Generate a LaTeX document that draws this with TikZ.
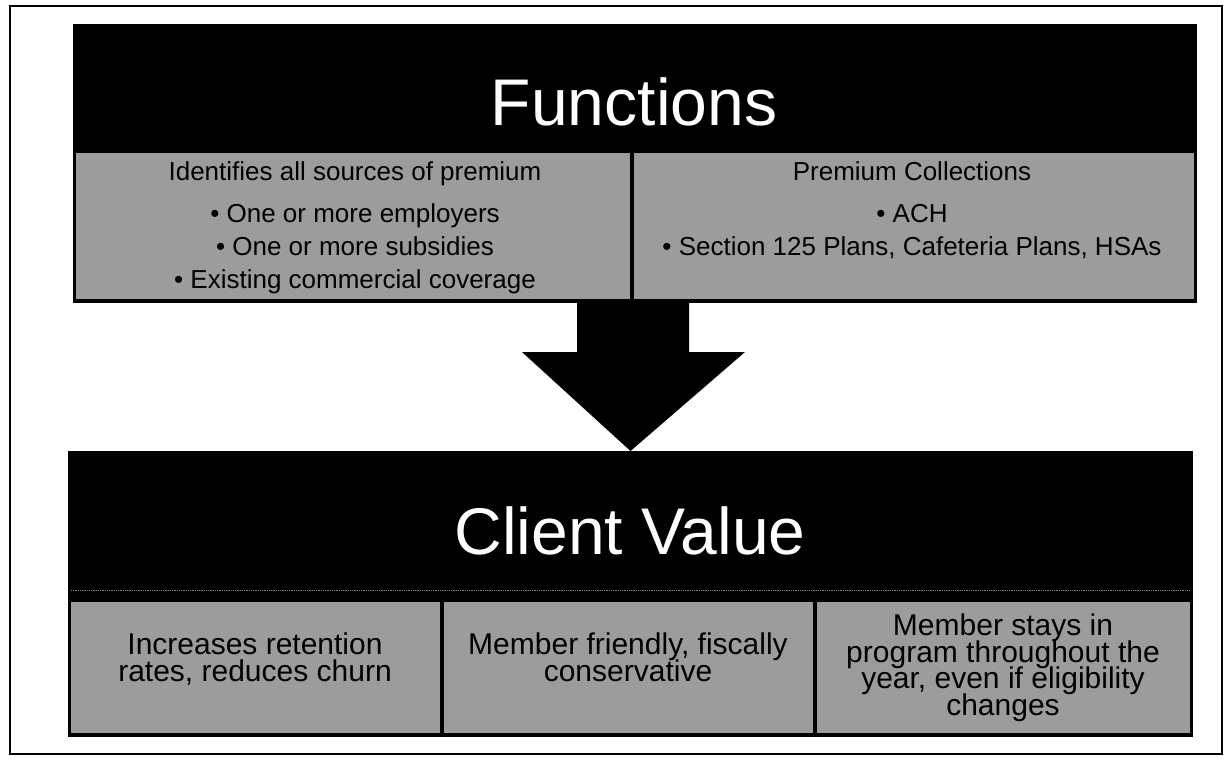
\documentclass[tikz,border=0pt]{standalone}
\usepackage{fontspec}
\setmainfont{Liberation Sans}
\usetikzlibrary{calc}
\definecolor{cellgray}{RGB}{156,156,156}
% let tightly set lines overlap without extra \lineskip
\lineskiplimit=-50pt\relax

\begin{document}
\begin{tikzpicture}[x=1pt,y=-1pt,
  panel/.style={fill=black,draw=none,inner sep=0,outer sep=0,anchor=north west},
  cell/.style={fill=cellgray,draw=none,inner sep=0,outer sep=0,anchor=north west},
  title/.style={text=white,font=\fontsize{66}{79}\selectfont,inner sep=0,anchor=base},
  toptext/.style={font=\fontsize{26}{33}\selectfont,align=center,inner sep=0,anchor=north},
  bottext/.style={font=\fontsize{30}{26.5}\selectfont,align=center,inner sep=0,anchor=north},
]
\useasboundingbox (0,0) rectangle (1225,761);

% outer frame
\node[draw,line width=1.6pt,inner sep=0,anchor=north west,
      minimum width=1212pt,minimum height=748pt] (frame) at (9,5) {};

% upper panel: Functions
\node[panel,minimum width=1124pt,minimum height=279pt] (fpanel) at (73,24) {};
\node[cell,minimum width=554pt,minimum height=146pt] (fleft) at (76,153) {};
\node[cell,minimum width=560pt,minimum height=146pt] (fright) at (634,153) {};
\node[title] (ftitle) at (634,125) {Functions};
\node[toptext] (ftextl) at (355,161)
  {Identifies all sources of premium\\[9pt]
   • One or more employers\\
   • One or more subsidies\\
   • Existing commercial coverage};
\node[toptext] (ftextr) at (912,161)
  {Premium Collections\\[9pt]
   • ACH\\
   • Section 125 Plans, Cafeteria Plans, HSAs};

% lower panel: Client Value
\node[panel,minimum width=1125pt,minimum height=286pt] (cpanel) at (68,451) {};
\draw[gray,densely dotted,line width=0.8pt]
  ($(cpanel.north west)+(3,139)$) -- ($(cpanel.north east)+(-3,139)$);
\node[cell,minimum width=369pt,minimum height=131pt] (cone) at (71,602) {};
\node[cell,minimum width=369pt,minimum height=131pt] (ctwo) at (444,602) {};
\node[cell,minimum width=373pt,minimum height=131pt] (cthree) at (817,602) {};
\node[title] (ctitle) at (630,554) {Client Value};
\node[bottext] (tone) at (255,633)
  {Increases retention\\rates, reduces churn};
\node[bottext] (ttwo) at (628,633)
  {Member friendly, fiscally\\conservative};
\node[bottext] (tthree) at (1003,614)
  {Member stays in\\program throughout the\\
   year, even if eligibility\\changes};

% block arrow from Functions down to Client Value
\coordinate (sl) at ($(fpanel.south)+(-58,0)$);
\coordinate (sr) at ($(fpanel.south)+(54,0)$);
\coordinate (hl) at ($(fpanel.south)+(-113,49)$);
\coordinate (hr) at ($(fpanel.south)+(110,49)$);
\coordinate (tip) at (cpanel.north);
\fill[black] (sl) -- (sr) -- (sr |- hr) -- (hr) -- (tip) -- (hl) -- (sl |- hl) -- cycle;
\end{tikzpicture}
\end{document}
